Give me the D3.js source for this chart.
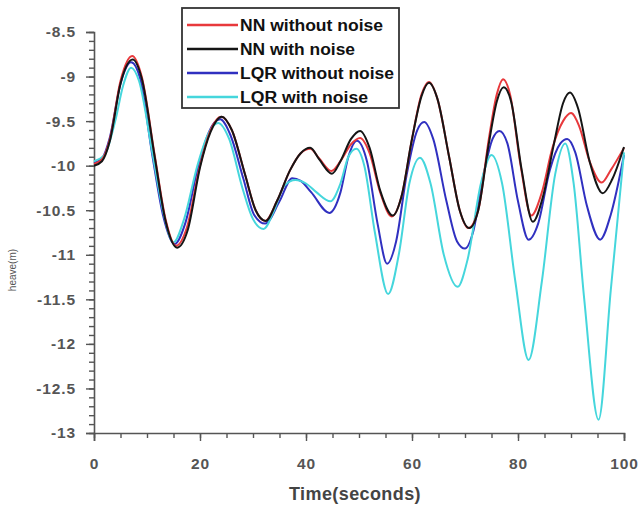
<!DOCTYPE html>
<html>
<head>
<meta charset="utf-8">
<script src="https://cdn.jsdelivr.net/npm/d3@7"></script>
<style>
  html, body { margin: 0; padding: 0; background: #fff; }
  svg { display: block; }
</style>
</head>
<body>
<svg id="chart" width="641" height="509"></svg>
<script>
// Heave response (m) over time (s) for the four controller cases.
const seriesNames = ["NN without noise", "NN with noise", "LQR without noise", "LQR with noise"];
const seriesColors = ["#e8393c", "#151515", "#3030c0", "#45d6dc"];

const nnCleanT = [0, 1.5, 3, 5, 7.2, 9, 11.5, 13.5, 15.5, 17.5, 20, 22, 24, 26, 28.5, 30.5, 32.3, 34.5, 37, 39, 40.8, 42.5, 44.8, 46.5, 48.5, 50.2, 52, 54, 56.2, 58, 60, 61.8, 63.2, 64.8, 67, 69, 70.6, 72.5, 74.5, 76, 77.2, 78.5, 80.5, 82.5, 84.5, 86.5, 88.5, 90, 91.5, 93.5, 95.8, 97.5, 100];
const nnCleanV = [-9.98, -9.93, -9.7, -9.05, -8.77, -9.0, -9.9, -10.6, -10.9, -10.7, -10.0, -9.6, -9.45, -9.6, -10.1, -10.5, -10.62, -10.4, -10.05, -9.86, -9.81, -9.92, -10.06, -9.95, -9.76, -9.69, -9.86, -10.3, -10.57, -10.35, -9.7, -9.2, -9.06, -9.25, -9.9, -10.5, -10.7, -10.5, -9.7, -9.2, -9.03, -9.2, -10.0, -10.56, -10.3, -9.8, -9.5, -9.41, -9.55, -9.95, -10.19, -10.05, -9.8];

const nnNoiseT = [0, 1.5, 3, 5, 7.3, 9, 11.5, 13.5, 15.7, 17.7, 20, 22, 24.1, 26, 28.5, 30.5, 32.4, 34.5, 37, 39, 40.8, 42.5, 44.9, 46.5, 48.5, 50.2, 52, 54, 56.4, 58, 60, 61.8, 63.2, 64.8, 67, 69, 70.8, 72.5, 74.5, 76, 77.3, 78.7, 80.7, 82.8, 84.7, 86.8, 88.5, 89.8, 91.3, 93.5, 96, 97.8, 100];
const nnNoiseV = [-10.0, -9.95, -9.72, -9.08, -8.81, -9.02, -9.92, -10.62, -10.92, -10.72, -10.02, -9.62, -9.45, -9.6, -10.1, -10.5, -10.62, -10.4, -10.05, -9.86, -9.8, -9.93, -10.09, -9.95, -9.7, -9.61, -9.8, -10.28, -10.56, -10.35, -9.7, -9.22, -9.07, -9.25, -9.9, -10.5, -10.7, -10.5, -9.75, -9.28, -9.12, -9.28, -10.05, -10.63, -10.35, -9.75, -9.3, -9.18, -9.35, -9.95, -10.31, -10.15, -9.79];

const lqrCleanT = [0, 1.5, 3, 5, 7, 8.7, 11, 13, 15.2, 17.2, 19.7, 21.7, 23.8, 25.7, 28.2, 30.2, 32.3, 35, 37.4, 39, 41, 44.4, 46.5, 48, 49.6, 51.5, 53.5, 55.3, 57, 59, 61, 62.3, 64, 66.5, 68.5, 70, 71.5, 73.5, 75.2, 76.5, 78, 80, 82, 83.8, 86, 88, 89.3, 90.8, 93, 95.5, 97.5, 100];
const lqrCleanV = [-9.97, -9.92, -9.68, -9.08, -8.84, -9.02, -9.88, -10.55, -10.88, -10.65, -10.0, -9.62, -9.48, -9.65, -10.15, -10.55, -10.65, -10.4, -10.14, -10.17, -10.3, -10.53, -10.3, -9.9, -9.72, -9.95, -10.65, -11.1, -10.85, -10.1, -9.6, -9.51, -9.7, -10.4, -10.85, -10.93, -10.75, -10.1, -9.7, -9.61, -9.75, -10.4, -10.83, -10.65, -10.05, -9.75, -9.7, -9.85, -10.45, -10.83, -10.55, -9.88];

const lqrNoiseT = [0, 2, 4, 5.5, 7, 8.5, 11, 13, 15, 17, 19.5, 21.5, 23.4, 25.5, 28, 30, 32, 34, 36, 38, 40, 42, 44.6, 46.5, 48, 49.5, 51, 53, 55.5, 57.5, 59.5, 61.5, 63.5, 66, 68.6, 70.5, 73, 75, 77, 79.5, 82, 84.5, 87, 88.9, 90.5, 92.5, 95.2, 97.5, 100];
const lqrNoiseV = [-9.95, -9.88, -9.5, -9.1, -8.9, -9.05, -9.85, -10.5, -10.86, -10.6, -10.0, -9.65, -9.52, -9.7, -10.25, -10.6, -10.71, -10.5, -10.22, -10.16, -10.2, -10.3, -10.4, -10.2, -9.9, -9.81, -10.0, -10.75, -11.44, -11.0, -10.2, -9.91, -10.2, -11.0, -11.36, -11.05, -10.2, -9.88, -10.2, -11.3, -12.18, -11.3, -10.1, -9.75, -10.2, -11.5, -12.85, -11.4, -9.85];

const xTicks = [0, 20, 40, 60, 80, 100];
const yTicks = [-8.5, -9, -9.5, -10, -10.5, -11, -11.5, -12, -12.5, -13];
const yTickLabels = ["-8.5", "-9", "-9.5", "-10", "-10.5", "-11", "-11.5", "-12", "-12.5", "-13"];

const seriesT = [nnCleanT, nnNoiseT, lqrCleanT, lqrNoiseT];
const seriesV = [nnCleanV, nnNoiseV, lqrCleanV, lqrNoiseV];

const svg = d3.select("#chart");
const plotLeft = 94, plotRight = 624, plotTop = 32, plotBottom = 433;

const x = d3.scaleLinear().domain([0, 100]).range([plotLeft, plotRight]);
const y = d3.scaleLinear().domain([-8.5, -13]).range([plotTop, plotBottom]);

const axisColor = "#555";
const labelFont = "'Liberation Sans', Arial, sans-serif";

// Minor ticks
const xMinor = d3.range(0, 100.001, 5);
const yMinor = d3.range(-8.5, -13.001, -0.1).map(v => +v.toFixed(2));

const gx = svg.append("g").attr("transform", `translate(0,${plotBottom})`);
gx.call(d3.axisBottom(x).tickValues(xMinor).tickSize(5).tickFormat(""));
gx.call(g => g.select(".domain").remove());
const gx2 = svg.append("g").attr("transform", `translate(0,${plotBottom})`);
gx2.call(d3.axisBottom(x).tickValues(xTicks).tickSize(8).tickPadding(14).tickFormat(d3.format("d")));

const gy = svg.append("g").attr("transform", `translate(${plotLeft},0)`);
gy.call(d3.axisLeft(y).tickValues(yMinor).tickSize(5).tickFormat(""));
gy.call(g => g.select(".domain").remove());
const gy2 = svg.append("g").attr("transform", `translate(${plotLeft},0)`);
gy2.call(d3.axisLeft(y).tickValues(yTicks).tickSize(8).tickPadding(10)
  .tickFormat((d, i) => yTickLabels[i]));

svg.selectAll("g").each(function() {
  const g = d3.select(this);
  g.selectAll("path.domain").attr("stroke", axisColor).attr("stroke-width", 1.6);
  g.selectAll(".tick line").attr("stroke", axisColor).attr("stroke-width", 1.4);
  g.selectAll(".tick text")
    .attr("fill", axisColor)
    .style("font-family", labelFont)
    .style("font-size", "15.5px")
    .style("font-weight", "bold")
    .style("letter-spacing", "0.9px");
});
gx2.selectAll(".tick text").attr("dy", "0.9em");

// Series lines
const line = d3.line()
  .x(d => x(d[0]))
  .y(d => y(d[1]))
  .curve(d3.curveMonotoneX);

const drawOrder = [2, 3, 0, 1];
drawOrder.forEach(i => {
  const pts = seriesT[i].map((t, k) => [t, seriesV[i][k]]);
  svg.append("path")
    .datum(pts)
    .attr("fill", "none")
    .attr("stroke", seriesColors[i])
    .attr("stroke-width", 2)
    .attr("stroke-linejoin", "round")
    .attr("d", line);
});

// Axis titles
svg.append("text")
  .attr("x", (plotLeft + plotRight) / 2 - 4)
  .attr("y", 500)
  .attr("text-anchor", "middle")
  .attr("fill", "#444")
  .style("font-family", labelFont)
  .style("font-size", "18px")
  .style("font-weight", "bold")
  .style("letter-spacing", "0.4px")
  .text("Time(seconds)");

svg.append("text")
  .attr("transform", "translate(16,270) rotate(-90)")
  .attr("text-anchor", "middle")
  .attr("fill", "#555")
  .style("font-family", labelFont)
  .style("font-size", "10px")
  .text("heave(m)");

// Legend
const legendTextWidths = [143, 115, 154, 128];
const legend = svg.append("g");
legend.append("rect")
  .attr("x", 182).attr("y", 8)
  .attr("width", 217).attr("height", 100)
  .attr("fill", "#fff")
  .attr("stroke", "#333")
  .attr("stroke-width", 1.8);

seriesNames.forEach((name, i) => {
  const yy = 25 + i * 24;
  legend.append("line")
    .attr("x1", 187).attr("x2", 238)
    .attr("y1", yy).attr("y2", yy)
    .attr("stroke", seriesColors[i])
    .attr("stroke-width", 2.4);
  legend.append("text")
    .attr("x", 240).attr("y", yy)
    .attr("dy", "0.36em")
    .attr("fill", "#111")
    .attr("textLength", legendTextWidths[i])
    .attr("lengthAdjust", "spacingAndGlyphs")
    .style("font-family", labelFont)
    .style("font-size", "16px")
    .style("font-weight", "bold")
    .text(name);
});
</script>
</body>
</html>
